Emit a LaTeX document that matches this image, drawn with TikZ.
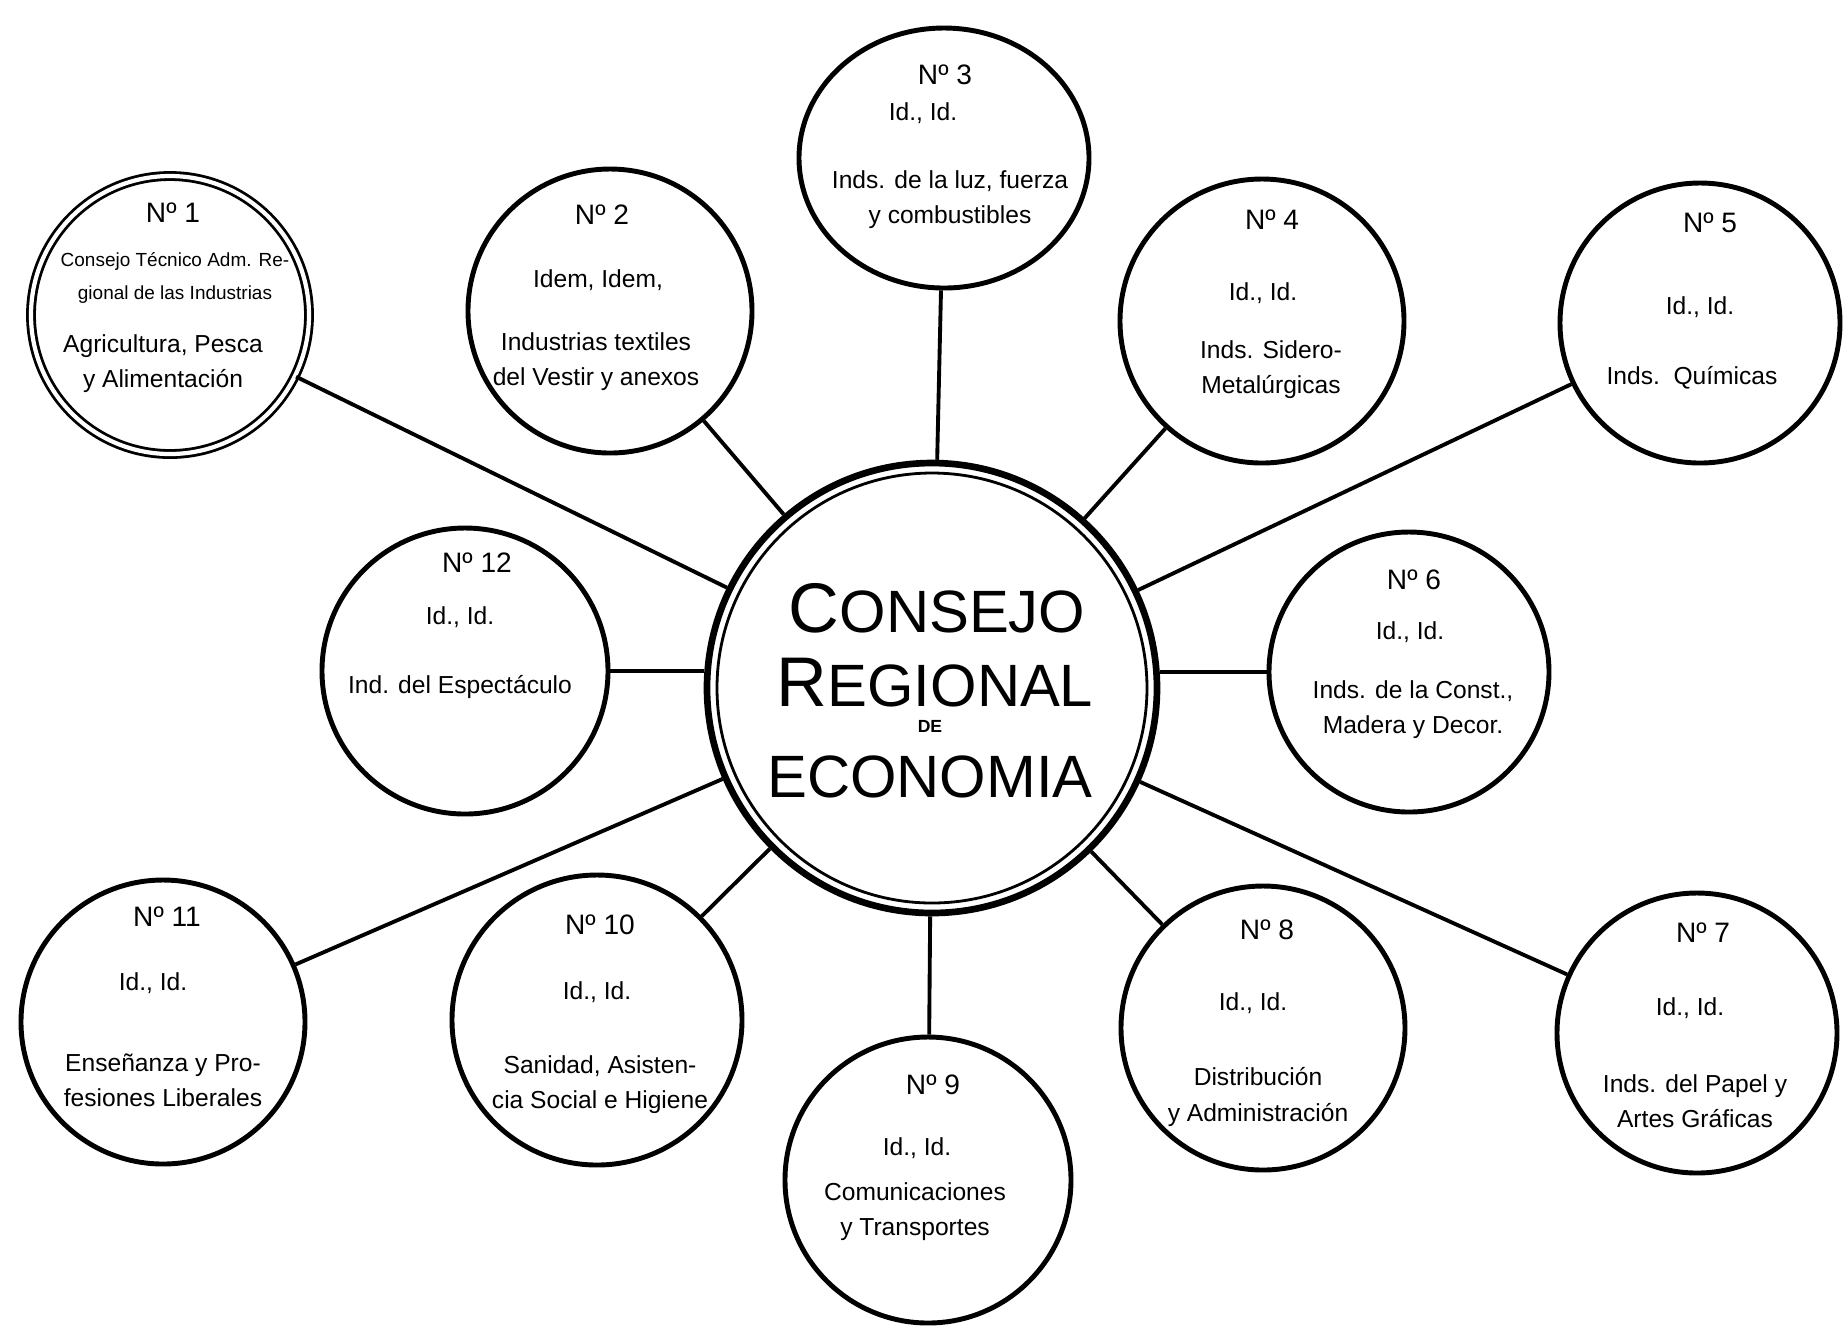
\documentclass[tikz,border=0pt]{standalone}
\usepackage{fontspec}
\setmainfont{Liberation Sans}
\usetikzlibrary{shapes.geometric}

\begin{document}
\begin{tikzpicture}[
  x=0.1mm, y=-0.1mm,
  sat/.style={circle,draw,line width=1.4pt,minimum size=#1,inner sep=0pt},
  sat/.default=28.4mm,
  numlbl/.style={font=\fontsize{8}{9}\selectfont},
  idlbl/.style={font=\fontsize{7}{9}\selectfont},
  txtlbl/.style={font=\fontsize{7}{10}\selectfont,align=center},
  bigword/.style={font=\fontsize{17}{18}\selectfont,inner sep=1pt},
  spoke/.style={line width=1.1pt}
]
\useasboundingbox (0,0) rectangle (1845,1328);

% central council (double ring)
\node[circle,draw,line width=1.9pt,minimum size=45mm,inner sep=0pt] (cc) at (932,688) {};
\draw[line width=0.8pt] (cc.center) circle[radius=21.5mm];
\node[bigword] (w1) at (937,608) {{\fontsize{20}{20}\selectfont C}ONSEJO};
\node[bigword] (w2) at (935,683) {{\fontsize{20}{20}\selectfont R}EGIONAL};
\node[font=\fontsize{5}{6}\selectfont\bfseries,inner sep=0.5pt] (w3) at (930,726) {DE};
\node[bigword] (w4) at (930,777) {ECONOMIA};

% surrounding councils, numbered clockwise from top left
\node[sat=27.8mm,double,line width=0.8pt,double distance=1.2pt] (n1) at (170,315) {};
\node[sat] (n2) at (610,311) {};
\node[ellipse,draw,line width=1.4pt,minimum width=29mm,minimum height=26mm,inner sep=0pt] (n3) at (944,158) {};
\node[sat] (n4) at (1262,321) {};
\node[sat=28mm] (n5) at (1700,323) {};
\node[sat=28mm] (n6) at (1409,672) {};
\node[sat=28mm] (n7) at (1697,1033) {};
\node[sat] (n8) at (1263,1028) {};
\node[sat=28.6mm] (n9) at (928,1180) {};
\node[sat=29mm] (n10) at (597,1020) {};
\node[sat] (n11) at (163,1022) {};
\node[sat=28.6mm] (n12) at (465,671) {};

% spokes
\draw[spoke] (cc) -- (n1);
\draw[spoke] (cc) -- (n2);
\draw[spoke] (cc) -- (n3);
\draw[spoke] (cc) -- (n4);
\draw[spoke] (cc) -- (n5);
\draw[spoke] (n6) -- (n6 -| cc.east);
\draw[spoke] (cc) -- (n7);
\draw[spoke] (cc) -- (n8);
\draw[spoke] (cc) -- (n9);
\draw[spoke] (cc) -- (n10);
\draw[spoke] (cc) -- (n11);
\draw[spoke] (n12) -- (n12 -| cc.west);

% texts
\node[numlbl] (n1num) at (173,213) {Nº 1};
\node[txtlbl,font=\fontsize{5.4}{9.5}\selectfont] (n1a) at (175,278) {Consejo Técnico Adm. Re-\\gional de las Industrias};
\node[txtlbl] (n1b) at (163,364) {Agricultura, Pesca\\y Alimentación};

\node[numlbl] (n2num) at (602,215) {Nº 2};
\node[idlbl] (n2id) at (598,280) {Idem, Idem,};
\node[txtlbl] (n2txt) at (596,362) {Industrias textiles\\del Vestir y anexos};

\node[numlbl] (n3num) at (945,75) {Nº 3};
\node[idlbl] (n3id) at (923,113) {Id., Id.};
\node[txtlbl] (n3txt) at (950,200) {Inds. de la luz, fuerza\\y combustibles};

\node[numlbl] (n4num) at (1272,220) {Nº 4};
\node[idlbl] (n4id) at (1263,293) {Id., Id.};
\node[txtlbl] (n4txt) at (1271,370) {Inds. Sidero-\\Metalúrgicas};

\node[numlbl] (n5num) at (1710,223) {Nº 5};
\node[idlbl] (n5id) at (1700,307) {Id., Id.};
\node[txtlbl] (n5txt) at (1692,378) {Inds.\ \ Químicas};

\node[numlbl] (n6num) at (1414,580) {Nº 6};
\node[idlbl] (n6id) at (1410,632) {Id., Id.};
\node[txtlbl] (n6txt) at (1413,710) {Inds. de la Const.,\\Madera y Decor.};

\node[numlbl] (n7num) at (1703,933) {Nº 7};
\node[idlbl] (n7id) at (1690,1008) {Id., Id.};
\node[txtlbl] (n7txt) at (1695,1101) {Inds. del Papel y\\Artes Gráficas};

\node[numlbl] (n8num) at (1267,930) {Nº 8};
\node[idlbl] (n8id) at (1253,1003) {Id., Id.};
\node[txtlbl] (n8txt) at (1258,1097) {Distribución\\y Administración};

\node[numlbl] (n9num) at (933,1085) {Nº 9};
\node[idlbl] (n9id) at (917,1148) {Id., Id.};
\node[txtlbl] (n9txt) at (915,1212) {Comunicaciones\\y Transportes};

\node[numlbl] (n10num) at (600,925) {Nº 10};
\node[idlbl] (n10id) at (597,992) {Id., Id.};
\node[txtlbl] (n10txt) at (600,1085) {Sanidad, Asisten-\\cia Social e Higiene};

\node[numlbl] (n11num) at (167,917) {Nº 11};
\node[idlbl] (n11id) at (153,983) {Id., Id.};
\node[txtlbl] (n11txt) at (163,1080) {Enseñanza y Pro-\\fesiones Liberales};

\node[numlbl] (n12num) at (477,563) {Nº 12};
\node[idlbl] (n12id) at (460,617) {Id., Id.};
\node[txtlbl] (n12txt) at (460,687) {Ind. del Espectáculo};

\end{tikzpicture}
\end{document}
